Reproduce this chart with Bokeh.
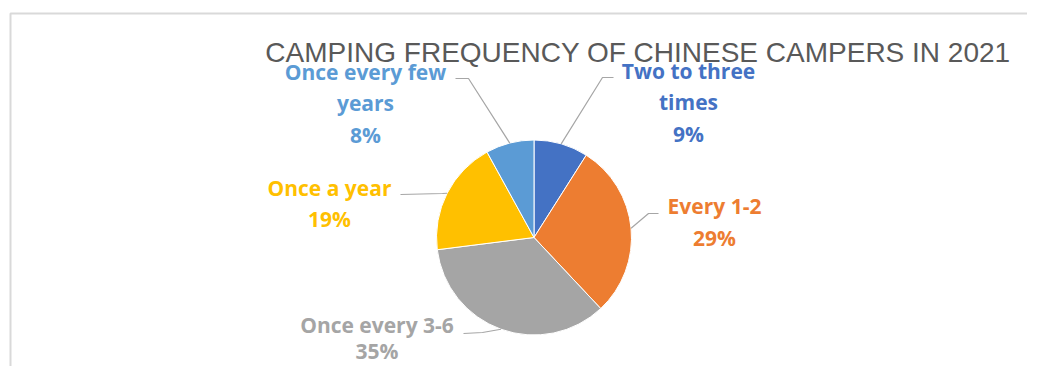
import math
import textwrap
from bokeh.plotting import figure
from bokeh.models import Range1d, ColumnDataSource
from bokeh.core.properties import value
from bokeh.embed import file_html
from bokeh.resources import INLINE

# ---------------- data ----------------
title_text = "CAMPING FREQUENCY OF CHINESE CAMPERS IN 2021"
categories = ["Two to three times", "Every 1-2", "Once every 3-6", "Once a year", "Once every few years"]
percents = [9, 29, 35, 19, 8]
colors = ["#4472C4", "#ED7D31", "#A5A5A5", "#FFC000", "#5B9BD5"]

# ---------------- layout (reference pixel coords, y downward) ----------------
W, H = 1027, 366
PAGE_H = 374
def Y(y):
    return PAGE_H - y

cx, cy, R = 533.5, Y(237), 97.5
label_first_line = [(688, 70), (714, 205), (376.5, 324), (329, 187), (365, 71)]
line_steps = [31.5, 32, 26, 31, 31.5]
elbows = [(602, 77), (648, 213), (482, 332), (442, 193), (468, 78)]
line_ends = [(613, 77), (658, 213), (463, 333), (400, 194), (455, 78)]

p = figure(width=W, height=H, output_backend="svg", toolbar_location=None,
           x_range=Range1d(0, W), y_range=Range1d(PAGE_H - H, PAGE_H),
           min_border=0, outline_line_color=None)
p.axis.visible = False
p.grid.visible = False
p.background_fill_color = "white"
p.border_fill_color = "white"

# chart area border
p.line(x=[10, 10, 1050], y=[Y(380), Y(13), Y(13)], line_color="#D9D9D9", line_width=2)

# wedges
total = sum(percents)
starts, ends, mids = [], [], []
cum = 0
for v in percents:
    a0 = math.pi / 2 - 2 * math.pi * cum / total
    a1 = math.pi / 2 - 2 * math.pi * (cum + v) / total
    starts.append(a1)
    ends.append(a0)
    mids.append(math.pi / 2 - 2 * math.pi * (cum + v / 2) / total)
    cum += v

src = ColumnDataSource(dict(start=starts, end=ends, color=colors, cat=categories, pct=percents))
p.wedge(x=cx, y=cy, radius=R, start_angle="start", end_angle="end", direction="anticlock",
        fill_color="color", line_color="white", line_width=1, source=src)

# leader lines
for m, (ex, ey), (lx, ly) in zip(mids, elbows, line_ends):
    px = cx + R * math.cos(m)
    py = cy + R * math.sin(m)
    p.line(x=[px, ex, lx], y=[py, Y(ey), Y(ly)], line_color="#A6A6A6", line_width=1.2)

# labels
tx, ty, tt, tc = [], [], [], []
for cat, v, col, (lx, ly), st in zip(categories, percents, colors, label_first_line, line_steps):
    lines = textwrap.wrap(cat, 14) + [f"{v}%"]
    for i, s in enumerate(lines):
        tx.append(lx)
        ty.append(Y(ly + i * st))
        tt.append(s)
        tc.append(col)
p.text(x=tx, y=ty, text=tt, text_color=tc, text_font=value("Open Sans"),
       text_font_style="bold", text_font_size="21px", text_align="center",
       text_baseline="middle")

# title
p.text(x=[637.5], y=[Y(52)], text=[title_text], text_color="#595959",
       text_font=value("Liberation Sans"), text_font_size="28px",
       text_align="center", text_baseline="middle")

open("out.html", "w").write(file_html(p, INLINE))
